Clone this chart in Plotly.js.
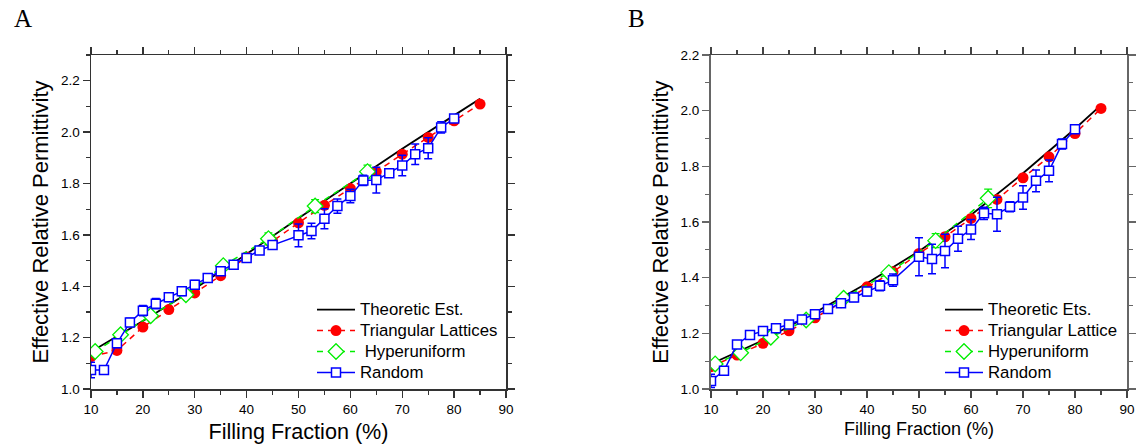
<!DOCTYPE html>
<html>
<head>
<meta charset="utf-8">
<script src="https://cdn.plot.ly/plotly-3.0.1.min.js"></script>
<style>html,body{margin:0;padding:0;background:#fff;}#chart{width:1146px;height:448px;}</style>
</head>
<body>
<div id="chart"></div>
<script>
// ---------- Data ----------
const theoryX = [10, 20, 30, 40, 50, 60, 70, 80, 85];
const theoryA = [1.145, 1.265, 1.39, 1.525, 1.665, 1.80, 1.935, 2.065, 2.13];
const theoryB = [1.09, 1.175, 1.275, 1.38, 1.495, 1.625, 1.775, 1.935, 2.02];

const triX = [10, 15, 20, 25, 30, 35, 40, 45, 50, 55, 60, 65, 70, 75, 80, 85];
const triA = [1.126, 1.150, 1.241, 1.309, 1.374, 1.441, 1.514, 1.575, 1.647, 1.715, 1.780, 1.846, 1.914, 1.979, 2.044, 2.109];
const triB = [1.080, 1.122, 1.164, 1.209, 1.256, 1.310, 1.367, 1.421, 1.487, 1.547, 1.613, 1.681, 1.759, 1.834, 1.918, 2.008];

const hypX = [10.8, 15.7, 21.5, 28.3, 35.5, 44.2, 53.2, 63.3];
const hypA = [1.146, 1.211, 1.285, 1.367, 1.480, 1.585, 1.712, 1.846];
const hypErrA = [0.01, 0.012, 0.012, 0.01, 0.01, 0.023, 0.025, 0.025];
const hypB = [1.090, 1.130, 1.186, 1.248, 1.326, 1.418, 1.533, 1.685];
const hypErrB = [0.01, 0.01, 0.01, 0.01, 0.01, 0.012, 0.025, 0.033];

const randX = [10, 12.5, 15, 17.5, 20, 22.5, 25, 27.5, 30, 32.5, 35, 37.5, 40, 42.5, 45, 50, 52.5, 55, 57.5, 60, 62.5, 65, 67.5, 70, 72.5, 75, 77.5, 80];
const randA = [1.074, 1.074, 1.178, 1.259, 1.305, 1.332, 1.357, 1.380, 1.406, 1.432, 1.458, 1.484, 1.510, 1.539, 1.560, 1.598, 1.615, 1.663, 1.712, 1.751, 1.812, 1.813, 1.840, 1.870, 1.914, 1.937, 2.018, 2.053];
const randErrA = [0.03, 0.008, 0.016, 0.016, 0.02, 0.02, 0.016, 0.016, 0.016, 0.012, 0.012, 0.012, 0.012, 0.012, 0.012, 0.044, 0.03, 0.039, 0.028, 0.026, 0.02, 0.05, 0.016, 0.04, 0.04, 0.041, 0.022, 0.008];
const randB = [1.029, 1.066, 1.160, 1.194, 1.208, 1.218, 1.232, 1.250, 1.269, 1.287, 1.308, 1.329, 1.350, 1.371, 1.391, 1.475, 1.467, 1.496, 1.540, 1.573, 1.631, 1.628, 1.655, 1.688, 1.748, 1.784, 1.880, 1.933];
const randErrB = [0.024, 0.012, 0.008, 0.012, 0.012, 0.008, 0.012, 0.008, 0.012, 0.01, 0.012, 0.015, 0.015, 0.018, 0.022, 0.068, 0.053, 0.06, 0.045, 0.036, 0.022, 0.061, 0.018, 0.042, 0.039, 0.039, 0.018, 0.008];

const namesA = ['Theoretic Est.', 'Triangular Lattices', '\u00a0Hyperuniform', 'Random'];
const namesB = ['Theoretic Ets.', 'Triangular Lattice', 'Hyperuniform', 'Random'];

// ---------- Styles ----------
const RED = '#ff0000', GREEN = '#00ee00', BLUE = '#0000ff';
const big = s => '<span style="font-size:16.8px">' + s + '</span>';

function panel(xa, ya, leg, names, th, tri, hyp, hypErr, rnd, rndErr) {
  return [
    {x: theoryX, y: th, xaxis: xa, yaxis: ya, legend: leg, name: big(names[0]), mode: 'lines',
     line: {color: '#000', width: 1.8}},
    {x: triX, y: tri, xaxis: xa, yaxis: ya, legend: leg, name: big(names[1]), mode: 'lines+markers',
     line: {color: RED, width: 1.5, dash: '6px,5px'},
     marker: {symbol: 'circle', size: 11, color: RED}},
    {x: hypX, y: hyp, xaxis: xa, yaxis: ya, legend: leg, name: big(names[2]), mode: 'lines+markers',
     line: {color: GREEN, width: 1.5, dash: '6px,5px'},
     marker: {symbol: 'diamond', size: 12, color: '#fff', line: {color: GREEN, width: 1.3}},
     error_y: {type: 'data', array: hypErr, visible: true, color: GREEN, thickness: 1.3, width: 4}},
    {x: randX, y: rnd, xaxis: xa, yaxis: ya, legend: leg, name: big(names[3]), mode: 'lines+markers',
     line: {color: BLUE, width: 1.5},
     marker: {symbol: 'square', size: 9, color: '#fff', line: {color: BLUE, width: 1.5}},
     error_y: {type: 'data', array: rndErr, visible: true, color: BLUE, thickness: 1.5, width: 4}}
  ];
}

const data = [].concat(
  panel('x', 'y', 'legend', namesA, theoryA, triA, hypA, hypErrA, randA, randErrA),
  panel('x2', 'y2', 'legend2', namesB, theoryB, triB, hypB, hypErrB, randB, randErrB)
);

const W = 1146;
function xax(dom, anchor, titleSize, standoff, lc) {
  return {
    domain: dom, anchor: anchor, range: [10, 90], tick0: 0, dtick: 10,
    ticks: 'outside', ticklen: 7, tickwidth: 1.3, tickcolor: lc,
    showline: true, linecolor: lc, linewidth: 1.5, mirror: 'allticks',
    showgrid: false, zeroline: false, automargin: false,
    tickfont: {size: 13.5, color: '#000'},
    minor: {dtick: 5, ticks: 'outside', ticklen: 4, tickwidth: 1.2, tickcolor: lc, showgrid: false},
    title: {text: 'Filling Fraction (%)', font: {size: titleSize, color: '#000'}, standoff: standoff}
  };
}
function yax(anchor, top, lc, lw) {
  return {
    domain: [0, 1], anchor: anchor, range: [1.0, top], tick0: 0, dtick: 0.2, tickformat: '.1f',
    ticks: 'outside', ticklen: 7, tickwidth: 1.3, tickcolor: lc,
    showline: true, linecolor: lc, linewidth: lw, mirror: 'allticks',
    showgrid: false, zeroline: false, automargin: false,
    tickfont: {size: 13.5, color: '#000'},
    minor: {dtick: 0.1, ticks: 'outside', ticklen: 4, tickwidth: 1.2, tickcolor: lc, showgrid: false},
    title: {text: 'Effective Relative Permittivity', font: {size: 22, color: '#000'}, standoff: 6}
  };
}

const layout = {
  width: 1146, height: 448,
  margin: {l: 0, r: 0, t: 55, b: 59},
  paper_bgcolor: '#fff', plot_bgcolor: '#fff',
  font: {family: '"Liberation Sans", Arial, sans-serif', color: '#000'},
  showlegend: true,
  xaxis: xax([91 / W, 506 / W], 'y', 21.6, 8, '#333'),
  yaxis: yax('x', 2.3, '#333', 1.5),
  xaxis2: xax([711 / W, 1127 / W], 'y2', 18, 6, '#444'),
  yaxis2: yax('x2', 2.2, '#666', 2),
  legend: {x: 312 / W, y: 0.284, xanchor: 'left', yanchor: 'top', bgcolor: 'rgba(0,0,0,0)',
           font: {size: 13.8, color: '#000'}, tracegroupgap: 0, itemwidth: 38},
  legend2: {x: 940 / W, y: 0.284, xanchor: 'left', yanchor: 'top', bgcolor: 'rgba(0,0,0,0)',
            font: {size: 13.8, color: '#000'}, tracegroupgap: 0, itemwidth: 38},
  annotations: [
    {text: 'A', xref: 'paper', yref: 'paper', x: 12 / W, y: (389 - 18) / 334, xanchor: 'left', yanchor: 'middle',
     showarrow: false, font: {family: '"Liberation Serif", "Times New Roman", serif', size: 25, color: '#000'}},
    {text: 'B', xref: 'paper', yref: 'paper', x: 626 / W, y: (389 - 18) / 334, xanchor: 'left', yanchor: 'middle',
     showarrow: false, font: {family: '"Liberation Serif", "Times New Roman", serif', size: 25, color: '#000'}}
  ]
};

Plotly.newPlot('chart', data, layout, {displayModeBar: false, staticPlot: true});
</script>
</body>
</html>
